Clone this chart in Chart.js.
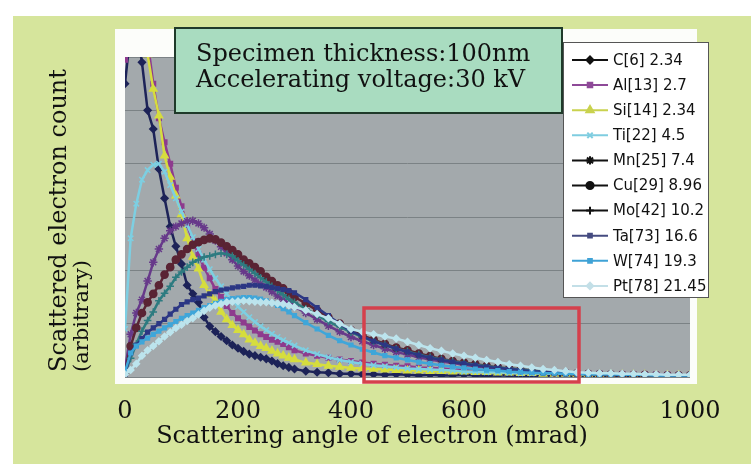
<!DOCTYPE html>
<html>
<head>
<meta charset="utf-8">
<script src="https://cdn.jsdelivr.net/npm/chart.js@4.4.1/dist/chart.umd.min.js"></script>
<style>
  html, body { margin: 0; padding: 0; background: #ffffff; }
  canvas { display: block; }
</style>
</head>
<body>
<canvas id="chart" width="751" height="464"></canvas>
<script>
// Scattering angle (mrad) at which each curve is sampled
const angles = [0,10,20,30,40,50,60,70,80,90,100,110,120,130,140,150,160,170,180,190,200,210,220,230,240,250,260,270,280,290,300,
  320,340,360,380,400,420,440,460,480,500,520,540,560,580,600,620,640,660,680,700,720,740,760,780,800,820,840,860,880,900,920,940,960,980,1000];

const xTickValues = [0, 200, 400, 600, 800, 1000];

const seriesLabels = ['C[6] 2.34','Al[13] 2.7','Si[14] 2.34','Ti[22] 4.5','Mn[25] 7.4',
  'Cu[29] 8.96','Mo[42] 10.2','Ta[73] 16.6','W[74] 19.3','Pt[78] 21.45'];

// Scattered electron count (arbitrary units), one list per element
const carbon = [5.5,6.5,6.6,5.9,5.0,4.65,3.9,3.35,2.82,2.45,2.12,1.72,1.56,1.4,1.12,0.95,0.85,0.76,0.68,0.6,0.54,0.48,0.43,0.4,0.37,0.34,0.3,0.25,0.21,0.18,0.15,
  0.11,0.09,0.08,0.06,0.06,0.05,0.05,0.04,0.05,0.04,0.03,0.04,0.03,0.03,0.04,0.03,0.02,0.03,0.03,0.02,0.03,0.02,0.02,0.03,0.02,0.02,0.03,0.02,0.02,0.02,0.03,0.02,0.02,0.02,0.02];
const aluminium = [5.95,6.3,6.8,6.9,6.3,5.5,4.85,4.4,4.0,3.55,3.2,2.85,2.55,2.3,2.05,1.85,1.65,1.5,1.33,1.2,1.1,1.02,0.94,0.87,0.8,0.75,0.7,0.66,0.62,0.56,0.5,
  0.44,0.4,0.36,0.33,0.3,0.27,0.25,0.23,0.21,0.2,0.18,0.17,0.16,0.14,0.13,0.12,0.11,0.1,0.1,0.09,0.08,0.08,0.07,0.07,0.06,0.06,0.05,0.05,0.05,0.04,0.04,0.04,0.04,0.03,0.03];
const silicon = [7.5,7.5,7.2,6.8,6.05,5.4,4.9,4.15,3.75,3.4,3.05,2.6,2.25,2.03,1.72,1.55,1.42,1.22,1.08,0.97,0.88,0.8,0.7,0.64,0.58,0.54,0.49,0.44,0.4,0.36,0.33,
  0.27,0.24,0.21,0.19,0.17,0.16,0.15,0.14,0.13,0.12,0.12,0.11,0.11,0.1,0.1,0.09,0.09,0.08,0.08,0.07,0.07,0.06,0.06,0.06,0.05,0.05,0.05,0.04,0.04,0.04,0.04,0.03,0.03,0.03,0.03];
const titanium = [0.9,2.6,3.25,3.7,3.88,3.98,4.0,3.85,3.6,3.35,3.1,2.85,2.62,2.4,2.2,2.02,1.85,1.7,1.56,1.44,1.32,1.22,1.12,1.03,0.95,0.88,0.81,0.75,0.69,0.64,0.59,
  0.5,0.43,0.37,0.32,0.28,0.25,0.22,0.2,0.18,0.16,0.15,0.14,0.13,0.12,0.1,0.1,0.09,0.09,0.08,0.07,0.07,0.07,0.06,0.06,0.05,0.05,0.05,0.05,0.04,0.04,0.04,0.04,0.03,0.03,0.03];
const manganese = [0.15,0.8,1.2,1.45,1.8,2.15,2.4,2.6,2.74,2.82,2.88,2.92,2.93,2.88,2.8,2.68,2.56,2.44,2.32,2.2,2.08,1.98,1.9,1.82,1.75,1.68,1.6,1.52,1.45,1.38,1.32,
  1.2,1.08,0.96,0.85,0.75,0.67,0.6,0.53,0.47,0.42,0.37,0.33,0.29,0.26,0.23,0.2,0.18,0.16,0.14,0.12,0.11,0.1,0.09,0.08,0.07,0.06,0.06,0.05,0.05,0.04,0.04,0.04,0.03,0.03,0.03];
const copper = [0.1,0.58,0.92,1.2,1.4,1.56,1.72,1.92,2.06,2.2,2.3,2.4,2.48,2.53,2.57,2.6,2.58,2.52,2.45,2.38,2.3,2.2,2.13,2.06,1.98,1.88,1.8,1.72,1.66,1.58,1.5,
  1.38,1.25,1.12,1.0,0.88,0.78,0.7,0.62,0.55,0.5,0.44,0.39,0.34,0.3,0.27,0.24,0.21,0.18,0.16,0.14,0.12,0.1,0.09,0.08,0.07,0.06,0.05,0.05,0.04,0.04,0.04,0.03,0.03,0.03,0.03];
const molybdenum = [0.08,0.35,0.62,0.86,1.06,1.22,1.43,1.57,1.7,1.87,1.97,2.06,2.15,2.2,2.25,2.27,2.3,2.32,2.3,2.27,2.18,2.1,2.02,1.94,1.86,1.78,1.7,1.62,1.54,1.46,1.4,
  1.28,1.16,1.04,0.94,0.84,0.75,0.67,0.6,0.53,0.48,0.42,0.37,0.33,0.29,0.26,0.23,0.2,0.18,0.16,0.14,0.12,0.1,0.09,0.08,0.07,0.06,0.05,0.05,0.04,0.04,0.04,0.03,0.03,0.03,0.03];
const tantalum = [0.05,0.45,0.6,0.72,0.84,0.92,1.0,1.08,1.18,1.27,1.36,1.41,1.45,1.48,1.52,1.56,1.6,1.63,1.65,1.67,1.69,1.7,1.72,1.72,1.71,1.7,1.68,1.66,1.64,1.62,1.58,
  1.45,1.3,1.15,1.0,0.86,0.76,0.67,0.6,0.53,0.47,0.41,0.36,0.32,0.28,0.25,0.22,0.19,0.17,0.15,0.13,0.11,0.1,0.09,0.08,0.07,0.06,0.05,0.05,0.04,0.04,0.04,0.03,0.03,0.03,0.03];
const tungsten = [0.1,0.45,0.58,0.66,0.73,0.8,0.86,0.92,0.98,1.04,1.1,1.15,1.2,1.25,1.3,1.34,1.38,1.42,1.45,1.47,1.48,1.49,1.49,1.48,1.46,1.43,1.39,1.34,1.28,1.22,1.15,
  1.02,0.9,0.78,0.68,0.6,0.52,0.46,0.4,0.36,0.32,0.28,0.25,0.22,0.19,0.17,0.15,0.13,0.12,0.1,0.09,0.08,0.07,0.07,0.06,0.06,0.05,0.05,0.05,0.04,0.04,0.04,0.03,0.03,0.03,0.03];
const platinum = [0.05,0.13,0.25,0.4,0.5,0.58,0.67,0.76,0.84,0.92,0.98,1.05,1.1,1.17,1.24,1.3,1.34,1.37,1.4,1.41,1.42,1.43,1.42,1.41,1.4,1.4,1.39,1.38,1.37,1.34,1.31,
  1.25,1.18,1.1,1.0,0.9,0.85,0.8,0.76,0.72,0.66,0.6,0.54,0.49,0.44,0.4,0.36,0.32,0.28,0.24,0.21,0.18,0.15,0.13,0.11,0.09,0.08,0.07,0.07,0.06,0.06,0.05,0.05,0.04,0.04,0.04];

const seriesValues = [carbon, aluminium, silicon, titanium, manganese, copper, molybdenum, tantalum, tungsten, platinum];

// Line / marker appearance per element (plot colour, legend swatch colour, marker)
const seriesStyles = [
  { color: '#1d2358', swatch: '#111111', point: 'rectRot',  r: 3.5 },
  { color: '#8e3b8e', swatch: '#8e4a98', point: 'rect',     r: 3.2 },
  { color: '#d6dd3e', swatch: '#c9d24e', point: 'triangle', r: 4.2 },
  { color: '#7dcfe2', swatch: '#7fcde0', point: 'crossRot', r: 3.8 },
  { color: '#67398a', swatch: '#111111', point: 'star',     r: 4.2 },
  { color: '#5a2434', swatch: '#111111', point: 'circle',   r: 3.6 },
  { color: '#2d7b80', swatch: '#111111', point: 'cross',    r: 3.8 },
  { color: '#2c3784', swatch: '#454b80', point: 'rect',     r: 2.6 },
  { color: '#3fa6d9', swatch: '#3fa2d6', point: 'rect',     r: 2.6 },
  { color: '#bce4ed', swatch: '#c3dfe7', point: 'rectRot',  r: 3.2 }
];

const SERIF = '"DejaVu Serif", "Liberation Serif", serif';
const SANS = '"DejaVu Sans", "Noto Sans", sans-serif';

// Page panel, white chart frame and grey plotting field
const backdrop = {
  id: 'backdrop',
  beforeDraw(chart) {
    const ctx = chart.ctx, a = chart.chartArea;
    ctx.save();
    ctx.fillStyle = '#ffffff';
    ctx.fillRect(0, 0, chart.width, chart.height);
    ctx.fillStyle = '#d6e59c';
    ctx.fillRect(13, 16, chart.width - 13, chart.height - 16);
    ctx.fillStyle = '#fcfdfa';
    ctx.fillRect(115, 29, 582, 355);
    ctx.fillStyle = '#a3a9ac';
    ctx.fillRect(a.left, a.top, a.right - a.left, a.bottom - a.top);
    ctx.restore();
  }
};

// Condition box, highlight frame, legend and axis titles
const annotations = {
  id: 'annotations',
  afterDraw(chart) {
    const ctx = chart.ctx;
    ctx.save();

    // highlighted tail region
    ctx.strokeStyle = '#d5404c';
    ctx.lineWidth = 3.5;
    ctx.strokeRect(364, 308, 215, 74);

    // measurement conditions
    ctx.fillStyle = '#a9dcc0';
    ctx.fillRect(175, 28, 387, 85);
    ctx.strokeStyle = '#1f3a2a';
    ctx.lineWidth = 2;
    ctx.strokeRect(175, 28, 387, 85);
    ctx.fillStyle = '#111111';
    ctx.font = '24px ' + SERIF;
    ctx.textAlign = 'left';
    ctx.textBaseline = 'alphabetic';
    ctx.fillText('Specimen thickness:100nm', 196, 61);
    ctx.fillText('Accelerating voltage:30 kV', 196, 87);

    // legend
    ctx.fillStyle = '#ffffff';
    ctx.fillRect(563, 42, 145, 255);
    ctx.strokeStyle = '#555555';
    ctx.lineWidth = 1;
    ctx.strokeRect(563.5, 42.5, 145, 255);
    ctx.font = '15px ' + SANS;
    ctx.textBaseline = 'middle';
    seriesLabels.forEach((label, i) => {
      const st = seriesStyles[i];
      const y = 60 + i * 25.1;
      ctx.strokeStyle = st.swatch;
      ctx.fillStyle = st.swatch;
      ctx.lineWidth = 2;
      ctx.beginPath();
      ctx.moveTo(572, y);
      ctx.lineTo(608, y);
      ctx.stroke();
      Chart.helpers.drawPoint(ctx, { pointStyle: st.point, radius: st.r, rotation: 0, borderWidth: 1.5 }, 590, y);
      ctx.fillStyle = '#111111';
      ctx.fillText(label, 613, y + 1);
    });

    // axis titles
    ctx.fillStyle = '#111111';
    ctx.textAlign = 'left';
    ctx.textBaseline = 'middle';
    ctx.font = '24px ' + SERIF;
    ctx.save();
    ctx.translate(60, 372);
    ctx.rotate(-Math.PI / 2);
    ctx.fillText('Scattered electron count', 0, 0);
    ctx.restore();
    ctx.font = '21px ' + SERIF;
    ctx.save();
    ctx.translate(83, 372);
    ctx.rotate(-Math.PI / 2);
    ctx.fillText('(arbitrary)', 0, 0);
    ctx.restore();

    ctx.font = '24px ' + SERIF;
    ctx.textAlign = 'center';
    ctx.fillText('Scattering angle of electron (mrad)', 372, 437);
    ctx.restore();
  }
};

new Chart(document.getElementById('chart'), {
  type: 'line',
  data: {
    datasets: seriesValues.map((vals, i) => ({
      label: seriesLabels[i],
      data: angles.map((a, k) => ({ x: a, y: vals[k] })),
      borderColor: seriesStyles[i].color,
      backgroundColor: seriesStyles[i].color,
      pointBackgroundColor: seriesStyles[i].color,
      pointBorderColor: seriesStyles[i].color,
      pointStyle: seriesStyles[i].point,
      pointRadius: seriesStyles[i].r,
      pointBorderWidth: 1.5,
      borderWidth: 2.5,
      tension: 0,
      fill: false,
      order: seriesValues.length - i
    }))
  },
  options: {
    responsive: false,
    animation: false,
    devicePixelRatio: 1,
    layout: { padding: { left: 125, right: 61, top: 57, bottom: 0 } },
    plugins: { legend: { display: false }, tooltip: { enabled: false } },
    scales: {
      x: {
        type: 'linear',
        min: 0,
        max: 1000,
        afterBuildTicks: s => { s.ticks = xTickValues.map(v => ({ value: v })); },
        afterFit: s => { s.height = 87; },
        ticks: {
          font: { family: SERIF, size: 24 },
          color: '#111111',
          padding: 20,
          maxRotation: 0,
          autoSkip: false,
          callback: v => String(v)
        },
        grid: { display: false, drawTicks: false },
        border: { display: false }
      },
      y: {
        min: 0,
        max: 6,
        afterFit: s => { s.width = 0; },
        ticks: { display: false, stepSize: 1 },
        grid: { color: '#7b8285', lineWidth: 1, drawTicks: false },
        border: { display: false }
      }
    }
  },
  plugins: [backdrop, annotations]
});
</script>
</body>
</html>
